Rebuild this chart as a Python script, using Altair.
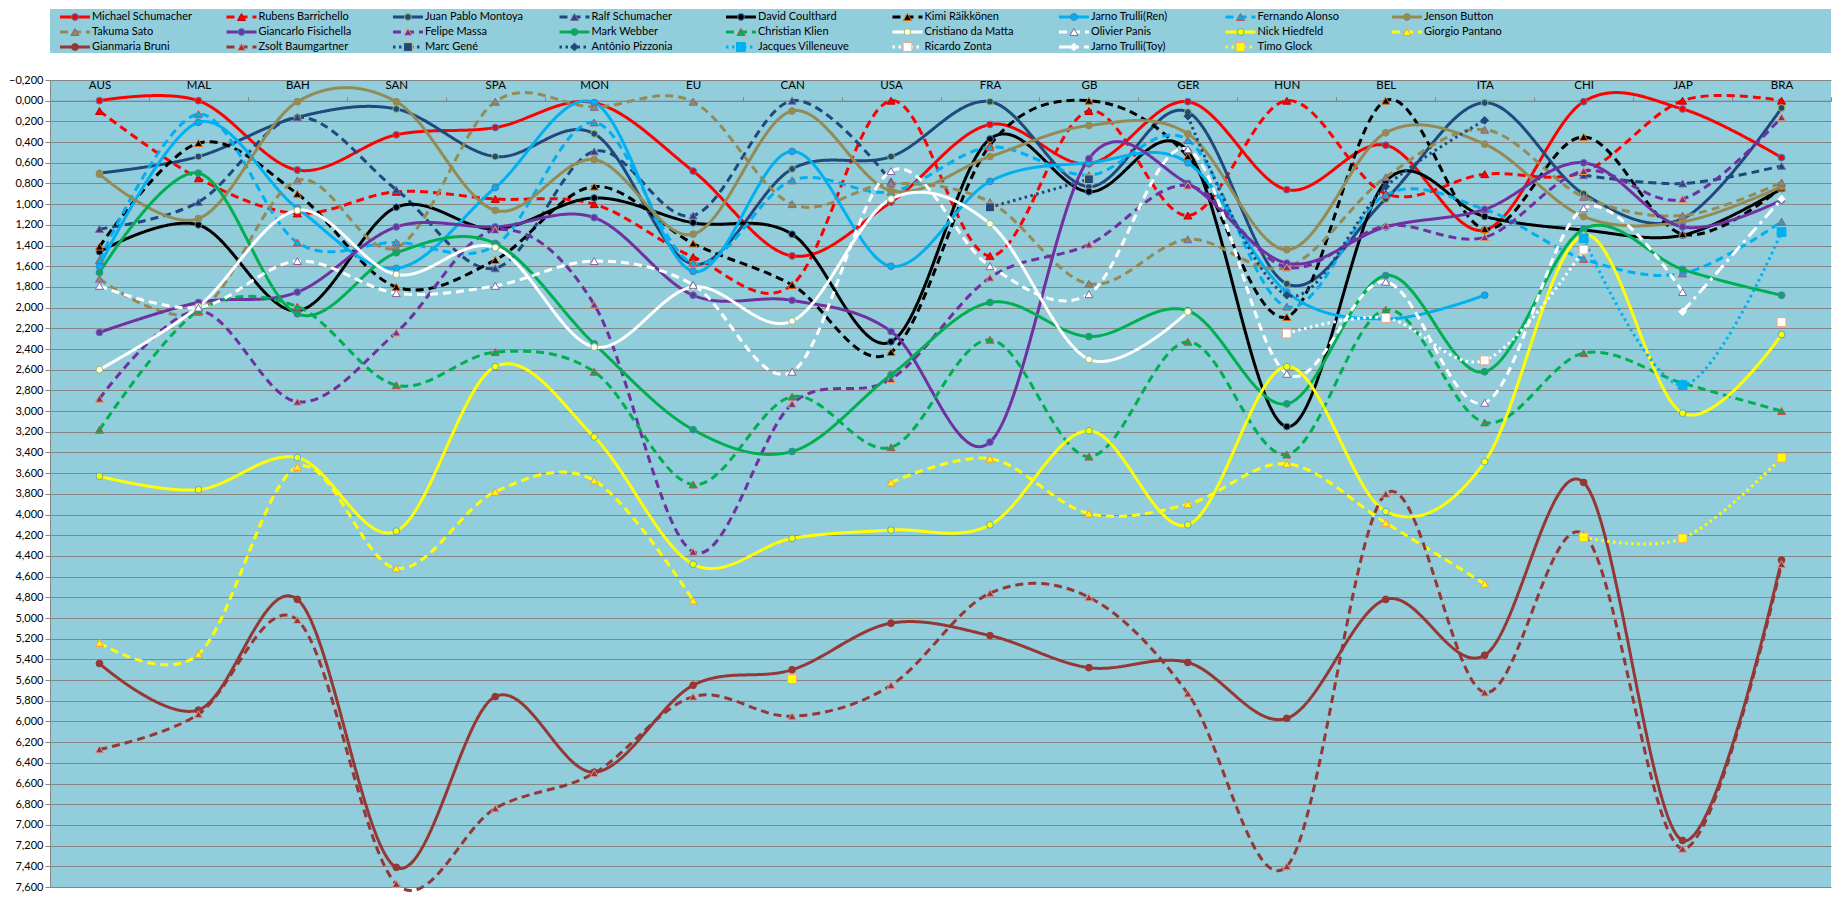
import altair as alt
import pandas as pd

RACES = ["AUS", "MAL", "BAH", "SAN", "SPA", "MON", "EU", "CAN", "USA",
         "FRA", "GB", "GER", "HUN", "BEL", "ITA", "CHI", "JAP", "BRA"]
N = None

michael_schumacher = [0.00, 0.00, 0.67, 0.33, 0.26, 0.02, 0.68, 1.50, 0.98, 0.23, 0.61, 0.01, 0.86, 0.43, 1.25, 0.01, 0.08, 0.55]
rubens_barrichello = [0.10, 0.75, 1.09, 0.88, 0.95, 1.00, 1.51, 1.78, 0.00, 1.50, 0.10, 1.11, 0.00, 0.90, 0.71, 0.69, 0.00, 0.00]
juan_pablo_montoya = [0.70, 0.54, 0.16, 0.08, 0.54, 0.32, 1.58, 0.66, 0.54, 0.01, 0.83, 0.11, 1.77, 0.95, 0.02, 0.90, 1.14, 0.07]
ralf_schumacher = [1.24, 0.98, 0.16, 0.86, 1.62, 0.49, 1.11, 0.00, 0.78, N, N, N, N, N, N, 0.72, 0.80, 0.63]
david_coulthard = [1.46, 1.20, 2.03, 1.03, 1.24, 0.94, 1.18, 1.29, 2.33, 0.37, 0.88, 0.49, 3.15, 0.78, 1.12, 1.25, 1.30, 0.85]
kimi_raikkonen = [1.41, 0.41, 0.90, 1.80, 1.54, 0.83, 1.38, 1.78, 2.43, 0.43, 0.00, 0.54, 2.09, 0.00, 1.24, 0.35, 1.29, 0.84]
jarno_trulli_ren = [1.60, 0.21, 1.04, 1.62, 0.84, 0.02, 1.65, 0.49, 1.60, 0.78, 0.60, 0.60, 1.85, 2.11, 1.88, N, N, N]
fernando_alonso = [1.54, 0.13, 1.37, 1.37, 1.40, 0.21, 1.57, 0.77, 0.88, 0.45, 0.72, 0.38, 1.99, 0.91, 1.05, 1.53, 1.67, 1.17]
jenson_button = [0.71, 1.14, 0.01, 0.01, 1.06, 0.57, 1.29, 0.10, 0.87, 0.54, 0.24, 0.32, 1.44, 0.31, 0.42, 1.12, 1.17, 0.83]
takuma_sato = [1.72, 2.04, 0.77, 1.42, 0.01, 0.06, 0.01, 1.00, 0.80, 0.98, 1.77, 1.34, 1.61, 0.74, 0.28, 0.93, 1.11, 0.79]
giancarlo_fisichella = [2.24, 1.95, 1.85, 1.22, 1.22, 1.13, 1.88, 1.93, 2.23, 3.30, 0.56, 0.80, 1.57, 1.22, 1.05, 0.60, 1.22, 0.96]
felipe_massa = [2.88, 2.03, 2.91, 2.24, 1.25, 1.97, 4.36, 2.93, 2.69, 1.71, 1.39, 0.82, 1.61, 1.21, 1.32, 0.68, 0.95, 0.16]
mark_webber = [1.66, 0.70, 2.06, 1.47, 1.38, 2.35, 3.18, 3.39, 2.65, 1.95, 2.28, 2.03, 2.93, 1.69, 2.62, 1.24, 1.63, 1.88]
christian_klien = [3.18, 2.03, 1.99, 2.75, 2.43, 2.62, 3.71, 2.86, 3.35, 2.31, 3.44, 2.33, 3.42, 2.02, 3.11, 2.44, 2.73, 3.00]
cristiano_da_matta = [2.60, 1.99, 1.06, 1.68, 1.42, 2.38, 1.80, 2.13, 0.95, 1.19, 2.50, 2.04, N, N, N, N, N, N]
olivier_panis = [1.79, 2.00, 1.55, 1.86, 1.79, 1.55, 1.78, 2.62, 0.68, 1.60, 1.87, 0.47, 2.64, 1.75, 2.92, 1.04, 1.85, N]
nick_heidfeld = [3.63, 3.76, 3.45, 4.16, 2.57, 3.25, 4.48, 4.23, 4.15, 4.10, 3.19, 4.10, 2.57, 3.97, 3.49, 1.30, 3.02, 2.26]
giorgio_pantano = [5.24, 5.35, 3.54, 4.52, 3.78, 3.67, 4.83, N, 3.69, 3.46, 3.99, 3.90, 3.51, 4.08, 4.67, N, N, N]
gianmaria_bruni = [5.44, 5.89, 4.82, 7.41, 5.76, 6.49, 5.65, 5.50, 5.05, 5.17, 5.48, 5.43, 5.97, 4.82, 5.36, 3.69, 7.15, 4.44]
zsolt_baumgartner = [6.27, 5.93, 5.02, 7.57, 6.84, 6.50, 5.76, 5.95, 5.65, 4.76, 4.80, 5.73, 7.40, 3.80, 5.72, 4.19, 7.23, 4.48]
marc_gene = [N, N, N, N, N, N, N, N, N, 1.03, 0.76, N, N, N, N, N, N, N]
antonio_pizzonia = [N, N, N, N, N, N, N, N, N, N, N, 0.15, 1.88, 0.83, 0.19, N, N, N]
jacques_villeneuve = [N, N, N, N, N, N, N, N, N, N, N, N, N, N, N, 1.33, 2.75, 1.27]
ricardo_zonta = [N, N, N, N, N, N, N, N, N, N, N, N, 2.25, 2.10, 2.51, 1.44, N, 2.14]
jarno_trulli_toy = [N, N, N, N, N, N, N, N, N, N, N, N, N, N, N, N, 2.04, 0.95]
timo_glock = [N, N, N, N, N, N, N, 5.59, N, N, N, N, N, N, N, 4.22, 4.23, 3.45]

SERIES = [
    ("Michael Schumacher", michael_schumacher),
    ("Rubens Barrichello", rubens_barrichello),
    ("Juan Pablo Montoya", juan_pablo_montoya),
    ("Ralf Schumacher", ralf_schumacher),
    ("David Coulthard", david_coulthard),
    ("Kimi Räikkönen", kimi_raikkonen),
    ("Jarno Trulli(Ren)", jarno_trulli_ren),
    ("Fernando Alonso", fernando_alonso),
    ("Jenson Button", jenson_button),
    ("Takuma Sato", takuma_sato),
    ("Giancarlo Fisichella", giancarlo_fisichella),
    ("Felipe Massa", felipe_massa),
    ("Mark Webber", mark_webber),
    ("Christian Klien", christian_klien),
    ("Cristiano da Matta", cristiano_da_matta),
    ("Olivier Panis", olivier_panis),
    ("Nick Hiedfeld", nick_heidfeld),
    ("Giorgio Pantano", giorgio_pantano),
    ("Gianmaria Bruni", gianmaria_bruni),
    ("Zsolt Baumgartner", zsolt_baumgartner),
    ("Marc Gené", marc_gene),
    ("Antônio Pizzonia", antonio_pizzonia),
    ("Jacques Villeneuve", jacques_villeneuve),
    ("Ricardo Zonta", ricardo_zonta),
    ("Jarno Trulli(Toy)", jarno_trulli_toy),
    ("Timo Glock", timo_glock),
]

# ---- styles (one per series, same order) ----
RED, NAVY, BLACK, CYAN, OLIVE = "#FF0000", "#1F497D", "#000000", "#00B0F0", "#948A54"
PURPLE, GREEN, WHITE, YELLOW, BROWN = "#7030A0", "#00B050", "#FFFFFF", "#FFFF00", "#953735"
SOLID, DASH, DOT, DASHDOT = [1, 0], [8, 5], [2.5, 3.5], [12, 5, 3, 5]
LINE_COLORS = [RED, RED, NAVY, NAVY, BLACK, BLACK, CYAN, CYAN, OLIVE,
               OLIVE, PURPLE, PURPLE, GREEN, GREEN, WHITE, WHITE, YELLOW, YELLOW,
               BROWN, BROWN, NAVY, NAVY, CYAN, WHITE, WHITE, YELLOW]
LINE_DASHES = [SOLID, DASH, SOLID, DASH, SOLID, DASH, SOLID, DASH, SOLID,
               DASH, SOLID, DASH, SOLID, DASH, SOLID, DASH, SOLID, DASH,
               SOLID, DASH, DOT, DOT, DOT, DOT, DASHDOT, DOT]
SHAPES = ["circle", "triangle-up", "circle", "triangle-up", "circle", "triangle-up", "circle", "triangle-up", "circle",
          "triangle-up", "circle", "triangle-up", "circle", "triangle-up", "circle", "triangle-up", "circle", "triangle-up",
          "circle", "triangle-up", "square", "diamond", "square", "square", "diamond", "square"]
EDGES = ["#4A7EBB", "#C00000", "#9BBB59", "#8064A2", "#4A7EBB", "#E46C0A", "#4A7EBB", "#C0504D", OLIVE,
         "#8064A2", "#4A7EBB", "#F79646", "#4A7EBB", "#C0504D", "#9BBB59", "#8064A2", "#4BACC6", "#F79646",
         BROWN, "#D99694", "#C4BD97", NAVY, CYAN, "#F4A582", WHITE, "#F4A582"]
SHAPE_SIZE = {"circle": 46, "triangle-up": 64, "square": 78, "diamond": 60}

NAMES = [s[0] for s in SERIES]

# ---- long tables ----
rows = []
for name, vals in SERIES:
    run = 0
    prev = None
    for i, v in enumerate(vals):
        if v is None:
            prev = None
            continue
        if prev is None:
            run += 1
        prev = v
        rows.append({"driver": name, "race": RACES[i], "value": v, "seg": f"{name}#{run}"})
df = pd.DataFrame(rows)
shape_of = dict(zip(NAMES, SHAPES))
df["msize"] = df["driver"].map(lambda d: SHAPE_SIZE[shape_of[d]])

FONT = "Lato"
GRID = "#868686"
BG = "#92CDDC"

color_scale = alt.Scale(domain=NAMES, range=LINE_COLORS)
dash_scale = alt.Scale(domain=NAMES, range=LINE_DASHES)
shape_scale = alt.Scale(domain=NAMES, range=SHAPES)
edge_scale = alt.Scale(domain=NAMES, range=EDGES)

W, H = 1781, 807
Y_MIN, Y_MAX = -0.2, 7.6
Y_TICKS = [round(-0.2 + 0.2 * k, 1) for k in range(40)]

x_enc = alt.X(
    "race:N", sort=RACES, bandPosition=0.5,
    scale=alt.Scale(type="band", domain=RACES, paddingInner=0, paddingOuter=0),
    axis=alt.Axis(orient="top", offset=-(0.2 / (Y_MAX - Y_MIN)) * H, title=None,
                  labelFont=FONT, labelFontSize=11.5, labelColor="#000000", labelAngle=0,
                  tickBand="extent", tickSize=4, tickColor=GRID, domainColor=GRID,
                  labelPadding=6, grid=False),
)
y_enc = alt.Y(
    "value:Q",
    scale=alt.Scale(domain=[Y_MIN, Y_MAX], reverse=True, nice=False, zero=False),
    axis=alt.Axis(values=Y_TICKS, title=None, grid=True, gridColor=GRID, gridWidth=1,
                  domainColor=GRID, tickColor=GRID, tickSize=5, labelPadding=2,
                  labelFont=FONT, labelFontSize=11, labelColor="#000000",
                  labelExpr="replace(format(datum.value, '.3f'), '.', ',')"),
)

lines = alt.Chart(df).mark_line(strokeWidth=3, interpolate="cardinal").encode(
    x=x_enc, y=y_enc,
    color=alt.Color("driver:N", scale=color_scale, legend=None),
    strokeDash=alt.StrokeDash("driver:N", scale=dash_scale, legend=None),
    detail="seg:N",
)
points = alt.Chart(df).mark_point(filled=True, strokeWidth=1, opacity=1).encode(
    x=x_enc, y=y_enc,
    shape=alt.Shape("driver:N", scale=shape_scale, legend=None),
    fill=alt.Fill("driver:N", scale=color_scale, legend=None),
    stroke=alt.Stroke("driver:N", scale=edge_scale, legend=None),
    size=alt.Size("msize:Q", scale=None, legend=None),
)
main = alt.layer(lines, points).properties(width=W, height=H)

# ---- legend panel (Excel-like, 9 columns x 3 rows) ----
leg = pd.DataFrame({
    "driver": NAMES,
    "col": [i % 9 for i in range(len(NAMES))],
    "row": [i // 9 for i in range(len(NAMES))],
})
leg["msize"] = leg["driver"].map(lambda d: SHAPE_SIZE[shape_of[d]])
lx = alt.X("col:Q", scale=alt.Scale(domain=[-0.06, 10.637], nice=False, zero=False), axis=None)
ly = alt.Y("row:Q", scale=alt.Scale(domain=[-0.533, 2.4], nice=False, zero=False, reverse=True), axis=None)
lbase = alt.Chart(leg).encode(x=lx, y=ly)
lrule = lbase.mark_rule(strokeWidth=3, x2Offset=30).encode(
    x2="col:Q",
    color=alt.Color("driver:N", scale=color_scale, legend=None),
    strokeDash=alt.StrokeDash("driver:N", scale=dash_scale, legend=None),
)
lpts = lbase.mark_point(filled=True, strokeWidth=1, opacity=1, xOffset=15).encode(
    shape=alt.Shape("driver:N", scale=shape_scale, legend=None),
    fill=alt.Fill("driver:N", scale=color_scale, legend=None),
    stroke=alt.Stroke("driver:N", scale=edge_scale, legend=None),
    size=alt.Size("msize:Q", scale=None, legend=None),
)
ltxt = lbase.mark_text(align="left", baseline="middle", dx=32, font=FONT, fontSize=11, color="#000000").encode(
    text="driver:N",
)
legend = alt.layer(lrule, lpts, ltxt).properties(width=W, height=44)

chart = alt.vconcat(legend, main, spacing=27, bounds="flush").resolve_scale(
    x="independent", y="independent"
).properties(
    padding={"left": 0, "top": 1, "right": 0, "bottom": 0},
    background="#FFFFFF",
).configure_view(fill=BG, stroke=None)

chart.save("out.html", embed_options={"renderer": "svg", "actions": False})
